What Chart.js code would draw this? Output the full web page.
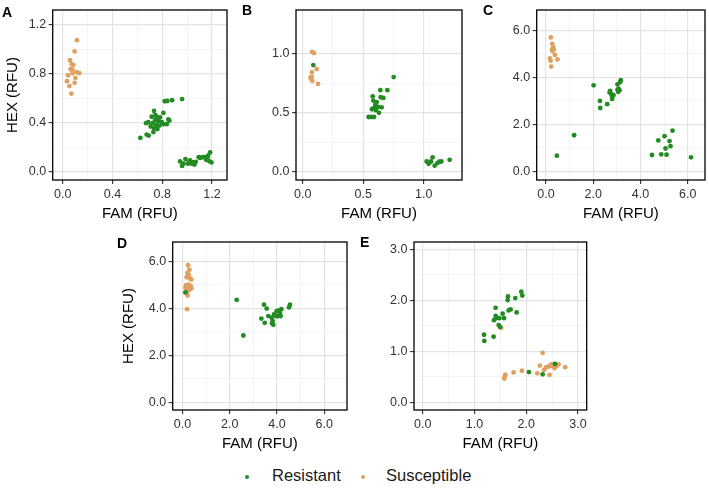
<!DOCTYPE html>
<html>
<head>
<meta charset="utf-8">
<script src="https://cdn.jsdelivr.net/npm/chart.js@4/dist/chart.umd.min.js"></script>
<style>
  body { margin: 0; background: #fff; font-family: "Liberation Sans", Arial, sans-serif; }
  #wrap { position: relative; width: 709px; height: 489px; }
  .pane { position: absolute; }
  .tag { position: absolute; font-weight: bold; font-size: 14px; line-height: 14px; color: #000; }
  #legend { position: absolute; top: 466px; left: 0; width: 709px; height: 22px; font-size: 16.5px; color: #1a1a1a; }
  #legend span { position: absolute; top: 0; }
  .dot { width: 4px; height: 4px; border-radius: 50%; top: 9px !important; }
</style>
</head>
<body>
<div id="wrap">
  <canvas class="pane" id="cA" width="232" height="225" style="left:0;top:0"></canvas>
  <canvas class="pane" id="cB" width="217" height="225" style="left:250px;top:0"></canvas>
  <canvas class="pane" id="cC" width="219" height="225" style="left:490px;top:0"></canvas>
  <canvas class="pane" id="cD" width="232" height="223" style="left:120px;top:232px"></canvas>
  <canvas class="pane" id="cE" width="224" height="223" style="left:368px;top:232px"></canvas>
  <div class="tag" style="left:2px;top:5px">A</div>
  <div class="tag" style="left:242px;top:3px">B</div>
  <div class="tag" style="left:483px;top:3px">C</div>
  <div class="tag" style="left:117px;top:236px">D</div>
  <div class="tag" style="left:360px;top:235px">E</div>
  <div id="legend">
    <span class="dot" style="left:245px;background:#228B22"></span>
    <span style="left:272px">Resistant</span>
    <span class="dot" style="left:361px;background:#E0A060"></span>
    <span style="left:386px">Susceptible</span>
  </div>
</div>
<script>
var groups = ["Resistant", "Susceptible"];
var colors = ["#228B22", "#E0A060"];

// panel A
var aRes = [[0.624,0.275],[0.675,0.302],[0.691,0.294],[0.734,0.495],[0.809,0.479],[0.820,0.575],[0.841,0.577],[0.879,0.583],[0.959,0.593],[0.849,0.426],[0.857,0.416],
  [0.715,0.448],[0.755,0.448],[0.782,0.442],[0.742,0.421],[0.769,0.413],[0.688,0.403],[0.723,0.395],[0.796,0.403],[0.750,0.381],[0.777,0.376],[0.707,0.368],[0.734,0.355],[0.761,0.347],[0.809,0.387],[0.729,0.323],[0.745,0.461],[0.836,0.387],[0.670,0.395],
  [0.943,0.082],[0.959,0.045],[0.970,0.064],[0.986,0.101],[1.005,0.064],[1.023,0.090],[1.037,0.064],[1.045,0.077],[1.058,0.056],[1.069,0.079],[1.093,0.117],[1.104,0.111],[1.125,0.117],[1.141,0.117],[1.152,0.095],[1.163,0.117],[1.168,0.130],[1.184,0.156],[1.195,0.074],[1.176,0.085],[1.013,0.072]];
var aSus = [[0.115,1.075],[0.096,0.983],[0.059,0.911],[0.072,0.879],[0.086,0.871],[0.064,0.837],[0.080,0.832],[0.043,0.787],[0.080,0.805],[0.112,0.813],[0.134,0.805],[0.102,0.766],[0.035,0.739],[0.096,0.726],[0.054,0.699],[0.070,0.638]];
var aTicksX = [0, 0.4, 0.8, 1.2];
var aTicksY = [0, 0.4, 0.8, 1.2];

// panel B
var bRes = [[0.088,0.904],[0.752,0.802],[0.642,0.691],[0.700,0.691],[0.645,0.631],[0.667,0.625],[0.579,0.639],[0.584,0.603],[0.612,0.590],[0.601,0.567],[0.590,0.540],[0.623,0.548],[0.653,0.545],[0.573,0.529],[0.631,0.499],[0.545,0.463],[0.567,0.463],[0.590,0.463],[0.606,0.521],
  [1.025,0.085],[1.041,0.066],[1.074,0.121],[1.091,0.050],[1.113,0.072],[1.129,0.083],[1.146,0.085],[1.215,0.099],[1.061,0.085]];
var bSus = [[0.077,1.017],[0.094,1.006],[0.116,0.871],[0.077,0.843],[0.074,0.804],[0.069,0.788],[0.080,0.771],[0.127,0.744],[0.066,0.799]];
var bTicksX = [0, 0.5, 1.0];
var bTicksY = [0, 0.5, 1.0];

// panel C
var cRes = [[0.463,0.674],[1.192,1.541],[2.019,3.660],[2.285,3.000],[2.299,2.697],[2.594,2.862],[2.692,3.358],[2.720,3.426],[2.762,3.289],[2.804,3.192],[2.860,3.248],[2.804,3.082],[3.028,3.702],[3.070,3.523],[3.112,3.454],[3.028,3.468],[3.140,3.798],[3.168,3.880],[3.056,3.385],
  [4.486,0.702],[4.753,1.321],[4.879,0.729],[5.019,1.500],[5.061,0.977],[5.103,0.716],[5.229,1.294],[5.271,1.073],[5.355,1.734],[6.140,0.605]];
var cSus = [[0.210,5.697],[0.266,5.422],[0.308,5.284],[0.252,5.174],[0.336,5.188],[0.280,5.119],[0.379,4.954],[0.168,4.803],[0.196,4.706],[0.491,4.761],[0.224,4.458]];
var cTicksX = [0, 2, 4, 6];
var cTicksY = [0, 2, 4, 6];

// panel D
var dRes = [[0.127,4.676],[2.296,4.359],[2.577,2.841],[3.451,4.152],[3.563,3.986],[3.338,3.559],[3.479,3.379],[3.634,3.669],[3.775,3.600],[3.817,3.462],[3.789,3.366],[3.845,3.297],[3.873,3.738],[3.958,3.669],[3.986,3.876],[4.056,3.903],[4.099,3.710],[4.127,3.793],[4.183,3.959],[4.155,3.669],[4.028,3.655],[4.507,4.041],[4.549,4.152]];
var dSus = [[0.239,5.834],[0.296,5.641],[0.211,5.503],[0.268,5.421],[0.183,5.324],[0.324,5.255],[0.380,5.228],[0.155,4.979],[0.254,5.007],[0.211,4.897],[0.324,4.869],[0.380,4.841],[0.268,4.772],[0.183,4.676],[0.225,4.538],[0.197,3.959],[0.352,4.952],[0.127,4.869]];
var dTicksX = [0, 2, 4, 6];
var dTicksY = [0, 2, 4, 6];

// panel E
var eRes = [[1.906,2.172],[1.925,2.096],[1.790,2.045],[1.648,2.076],[1.642,2.006],[1.700,1.822],[1.661,1.803],[1.816,1.764],[1.410,1.854],[1.545,1.739],[1.410,1.694],[1.416,1.650],[1.481,1.650],[1.571,1.650],[1.378,1.611],[1.468,1.516],[1.494,1.478],[1.185,1.325],[1.371,1.287],[1.191,1.204],[2.054,0.592],[2.318,0.548],[2.556,0.752]];
var eSus = [[1.519,1.459],[2.318,0.968],[2.266,0.720],[2.343,0.631],[2.382,0.682],[2.408,0.694],[2.446,0.707],[2.485,0.745],[2.498,0.707],[2.549,0.669],[2.627,0.745],[2.755,0.688],[2.453,0.535],[2.215,0.567],[1.918,0.618],[1.758,0.586],[1.597,0.541],[1.584,0.503],[1.577,0.465],[2.588,0.707]];
var eTicksX = [0, 1, 2, 3];
var eTicksY = [0, 1, 2, 3];

var FONT = "'Liberation Sans', Arial, sans-serif";

function withMinor(major) {
  var out = [];
  for (var i = 0; i < major.length; i++) {
    out.push(major[i]);
    if (i < major.length - 1) out.push((major[i] + major[i + 1]) / 2);
  }
  return out;
}
function isMajor(major, v) {
  return major.some(function (m) { return Math.abs(m - v) < 1e-9; });
}

var boxPlugin = {
  id: "box",
  afterDraw: function (chart) {
    var a = chart.chartArea, c = chart.ctx;
    c.save();
    c.strokeStyle = "#000";
    c.lineWidth = 1.3;
    c.strokeRect(a.left, a.top, a.right - a.left, a.bottom - a.top);
    c.restore();
  }
};

function axis(major, min, max, size, title, isX, titlePad) {
  var all = withMinor(major);
  return {
    type: "linear",
    min: min, max: max,
    afterBuildTicks: function (s) { s.ticks = all.map(function (v) { return { value: v }; }); },
    afterFit: function (s) { if (isX) s.height = size; else s.width = size; },
    border: { display: false },
    grid: {
      color: function (ctx) { return ctx.tick && isMajor(major, ctx.tick.value) ? "#e3e3e3" : "#f1f1f1"; },
      lineWidth: function (ctx) { return ctx.tick && isMajor(major, ctx.tick.value) ? 1.2 : 0.8; },
      tickColor: function (ctx) { return ctx.tick && isMajor(major, ctx.tick.value) ? "#333" : "rgba(0,0,0,0)"; },
      tickLength: 4,
      tickWidth: 1.1
    },
    ticks: {
      autoSkip: false, maxRotation: 0, padding: isX ? 3.5 : 2.5,
      color: "#333",
      font: { family: FONT, size: 12.5 },
      callback: function (v) { return isMajor(major, v) ? Number(v).toFixed(1) : ""; }
    },
    title: {
      display: !!title, text: title || "", color: "#000",
      font: { family: FONT, size: 15 },
      padding: isX ? { top: 0, bottom: 2 } : { top: titlePad, bottom: 0 }
    }
  };
}

function panel(id, res, sus, tx, ty, xr, yr, yw, yTitle, yTitlePad, pad) {
  new Chart(id, {
    type: "scatter",
    data: {
      datasets: [
        { label: groups[0], data: res.map(function (p) { return { x: p[0], y: p[1] }; }), backgroundColor: colors[0], pointRadius: 2.4, borderWidth: 0 },
        { label: groups[1], data: sus.map(function (p) { return { x: p[0], y: p[1] }; }), backgroundColor: colors[1], pointRadius: 2.4, borderWidth: 0 }
      ]
    },
    options: {
      responsive: false,
      animation: false,
      layout: { padding: pad },
      plugins: { legend: { display: false }, tooltip: { enabled: false } },
      scales: {
        x: axis(tx, xr[0], xr[1], 45, "FAM (RFU)", true, 0),
        y: axis(ty, yr[0], yr[1], yw, yTitle, false, yTitlePad)
      }
    },
    plugins: [boxPlugin]
  });
}

panel("cA", aRes, aSus, aTicksX, aTicksY, [-0.08, 1.32], [-0.07, 1.322], 52.7, "HEX (RFU)", 4, { top: 5, right: 5, left: 0, bottom: 0 });
panel("cB", bRes, bSus, bTicksX, bTicksY, [-0.055, 1.317], [-0.072, 1.372], 46, "", 0, { top: 5.3, right: 5, left: 0, bottom: 0 });
panel("cC", cRes, cSus, cTicksX, cTicksY, [-0.39, 6.73], [-0.36, 6.86], 46.7, "", 0, { top: 5.3, right: 3, left: 0, bottom: 0 });
panel("cD", dRes, dSus, dTicksX, dTicksY, [-0.41, 6.96], [-0.33, 6.82], 52.7, "HEX (RFU)", 0, { top: 5.3, right: 5, left: 0, bottom: 0 });
panel("cE", eRes, eSus, eTicksX, eTicksY, [-0.168, 3.17], [-0.153, 3.147], 46, "", 0, { top: 5.3, right: 5.3, left: 0, bottom: 0 });
</script>
</body>
</html>
